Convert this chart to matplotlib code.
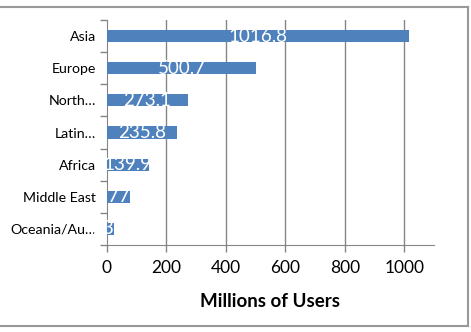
import matplotlib
matplotlib.use("Agg")
import matplotlib.pyplot as plt
from matplotlib.lines import Line2D

categories = ["Asia", "Europe", "North…", "Latin…", "Africa", "Middle East", "Oceania/Au…"]
values = [1016.8, 500.7, 273.1, 235.8, 139.9, 77.0, 23.3]
labels = ["1016.8", "500.7", "273.1", "235.8", "139.9", "77", "23.3"]
xticks = [0, 200, 400, 600, 800, 1000]

plt.rcParams['font.family'] = ['Lato', 'DejaVu Sans']

fig = plt.figure(figsize=(4.71, 3.32), dpi=100)
ax = fig.add_axes([107/471, 87/332, (434-107)/471, 225/332])

n = len(categories)
ypos = list(range(n - 1, -1, -1))
bars = ax.barh(ypos, values, height=0.38, color="#4F81BD", zorder=3)
for b, lab, y in zip(bars, labels, ypos):
    t = ax.text(b.get_width() / 2, y, lab, ha="center", va="center",
                color="white", fontsize=13.5, zorder=4)
    t.set_clip_path(b)

ax.set_xlim(0, 1100)
ax.set_ylim(-0.5, n - 0.5)
ax.set_xticks(xticks)
ax.set_xticklabels([str(x) for x in xticks], fontsize=12.5)
ax.set_yticks(ypos)
ax.set_yticklabels(categories, fontsize=10.2)
ax.tick_params(axis="y", length=0, pad=8)
ax.set_yticks([i - 0.5 for i in range(n + 1)], minor=True)
ax.tick_params(axis="y", which="minor", length=5, color="#868686", width=1)
ax.tick_params(axis="x", length=5, color="#868686", width=1, pad=6)
for x in xticks[1:]:
    ax.axvline(x, color="#868686", lw=1, zorder=1)
for s in ["top", "right"]:
    ax.spines[s].set_visible(False)
for s in ["left", "bottom"]:
    ax.spines[s].set_color("#868686")
ax.set_xlabel("Millions of Users", fontsize=13.5, fontweight="bold", labelpad=12)

fig.add_artist(Line2D([0, 468/471], [1 - 7/332, 1 - 7/332], color="#999999", lw=1.5, transform=fig.transFigure))
fig.add_artist(Line2D([0, 468/471], [1 - 326/332, 1 - 326/332], color="#999999", lw=1.5, transform=fig.transFigure))
fig.add_artist(Line2D([468/471, 468/471], [1 - 326/332, 1 - 7/332], color="#999999", lw=1.5, transform=fig.transFigure))

fig.savefig("out.png", dpi=100)
